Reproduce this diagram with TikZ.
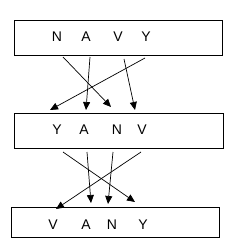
\documentclass[tikz,border=0pt]{standalone}
\usepackage{fontspec}
\setmainfont{Liberation Sans}
\usetikzlibrary{arrows.meta}
\begin{document}
\begin{tikzpicture}[x=1pt, y=-1pt, line width=0.7pt, >={Triangle[length=8pt,width=7pt]},
	letter/.style={font=\fontsize{14}{16}\selectfont, inner sep=0pt},
	wordbox/.style={draw, minimum height=35pt, inner sep=0pt}]
	\useasboundingbox (0,0) rectangle (240,251);
	% boxes
	\node[wordbox, minimum width=208pt] (box1) at (118,37.5) {};
	\node[wordbox, minimum width=209pt] (box2) at (118.5,130.5) {};
	\node[wordbox, minimum width=208pt, minimum height=30pt] (box3) at (115,222) {};
	% letters
	\node[letter] (n1) at (57,37) {N};
	\node[letter] (a1) at (86,37) {A};
	\node[letter] (v1) at (118,37) {V};
	\node[letter] (y1) at (146,37) {Y};
	\node[letter] (y2) at (57,130) {Y};
	\node[letter] (a2) at (84,130) {A};
	\node[letter] (n2) at (117,130) {N};
	\node[letter] (v2) at (142,130) {V};
	\node[letter] (v3) at (53,225) {V};
	\node[letter] (a3) at (86,225) {A};
	\node[letter] (n3) at (112,225) {N};
	\node[letter] (y3) at (143,225) {Y};
	% arrow ends
	\coordinate (n1s) at (63,57);
	\coordinate (a1s) at (90,57);
	\coordinate (v1s) at (124,59);
	\coordinate (y1s) at (145,58);
	\coordinate (n2e) at (111,107);
	\coordinate (a2e) at (86,110);
	\coordinate (v2e) at (135,110);
	\coordinate (y2e) at (50,110);
	\coordinate (y2s) at (63,152);
	\coordinate (a2s) at (87,152);
	\coordinate (n2s) at (113,152);
	\coordinate (v2s) at (141,152);
	\coordinate (y3e) at (135,202);
	\coordinate (a3e) at (91,203);
	\coordinate (n3e) at (108,204);
	\coordinate (v3e) at (56,209);
	% first step
	\draw[->] (n1s) -- (n2e);
	\draw[->] (a1s) -- (a2e);
	\draw[->] (v1s) -- (v2e);
	\draw[->] (y1s) -- (y2e);
	% second step
	\draw[->] (y2s) -- (y3e);
	\draw[->] (a2s) -- (a3e);
	\draw[->] (n2s) -- (n3e);
	\draw[->] (v2s) -- (v3e);
\end{tikzpicture}
\end{document}
